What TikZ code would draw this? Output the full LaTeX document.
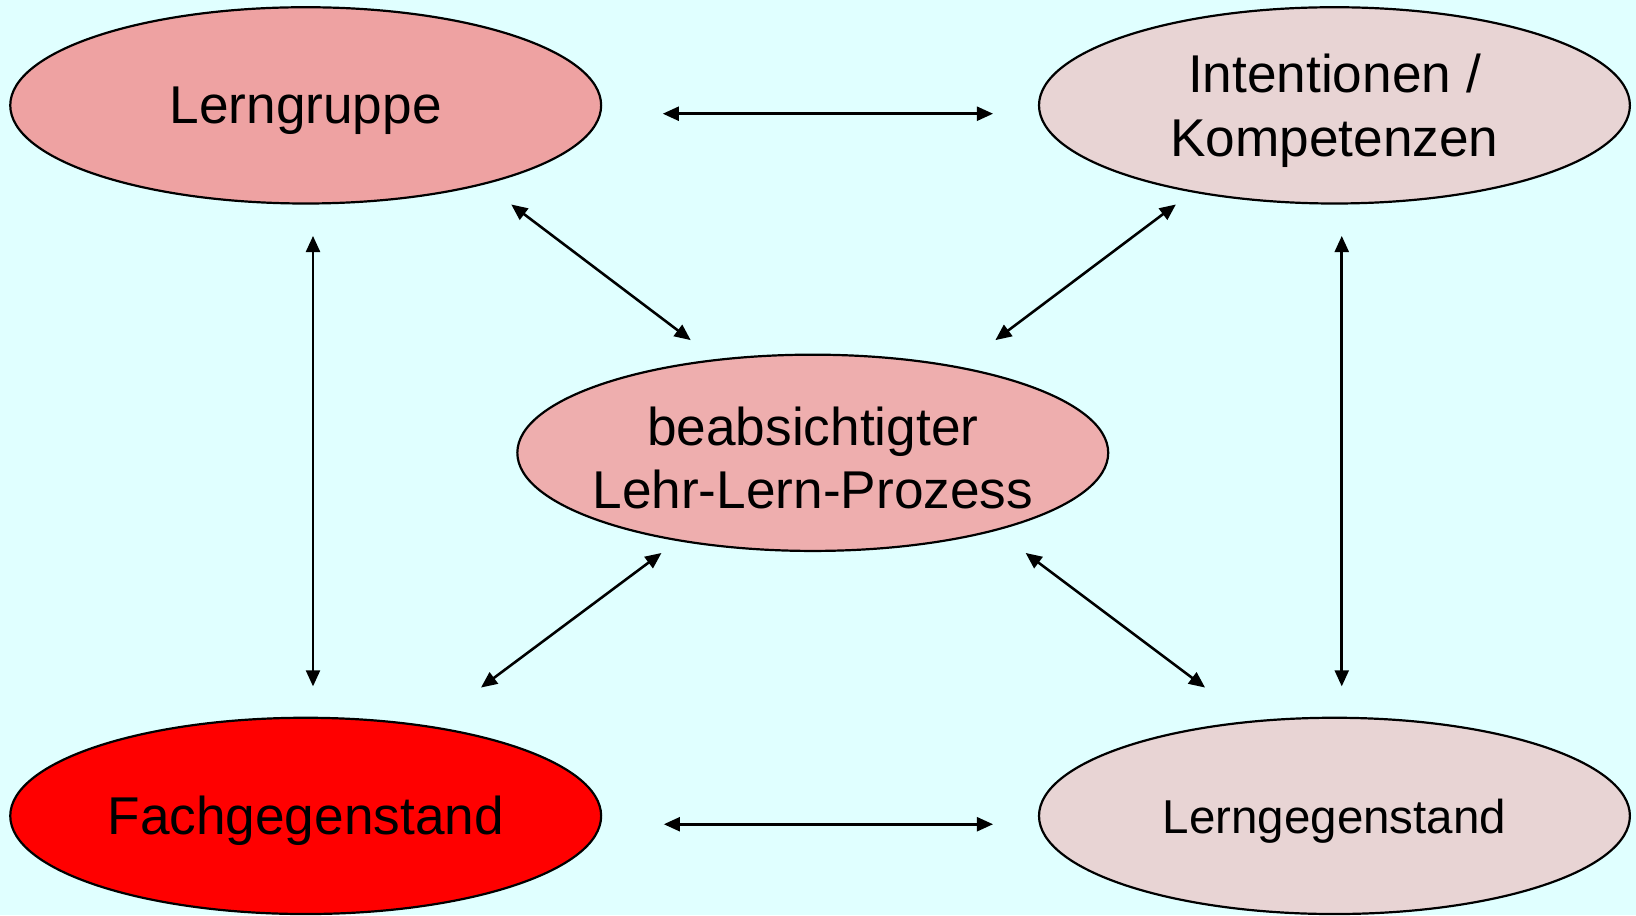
\documentclass[tikz,border=0pt]{standalone}
\usepackage{fontspec}
\setmainfont{Liberation Sans}
\usetikzlibrary{shapes.geometric,arrows.meta}
\definecolor{bgc}{RGB}{224,255,255}
\definecolor{lgc}{RGB}{238,162,162}
\definecolor{cpc}{RGB}{238,174,174}
\definecolor{icc}{RGB}{232,212,212}
\definecolor{fgc}{RGB}{255,0,0}
\begin{document}
\begin{tikzpicture}[x=0.01cm,y=-0.01cm,
  ell/.style={ellipse,draw=black,line width=0.6pt,inner sep=0pt,minimum width=5.66cm,minimum height=1.88cm},
  txt/.style={font=\fontsize{14.5}{17.4}\selectfont,align=center,text=black,yshift=-0.05cm},
  arr/.style={line width=0.7pt,{Triangle[length=4.4pt,width=3.8pt]}-{Triangle[length=4.4pt,width=3.8pt]}}]
\fill[bgc] (0,0) rectangle (1568,877);
\useasboundingbox (0,0) rectangle (1568,877);
\node[ell,fill=lgc,label={[txt]center:Lerngruppe}] (lg) at (293,101) {};
\node[ell,fill=icc,label={[txt]center:Intentionen /\\Kompetenzen}] (ic) at (1279,101) {};
\node[ell,fill=cpc,label={[txt]center:beabsichtigter\\Lehr-Lern-Prozess}] (cp) at (779,434) {};
\node[ell,fill=fgc,label={[txt]center:Fachgegenstand}] (fg) at (293,782) {};
\node[ell,fill=icc,label={[txt,font=\fontsize{12.95}{15.5}\selectfont]center:Lerngegenstand}] (lgs) at (1279,782) {};
\draw[arr] ([shift={(58,8)}]lg.east) -- ([shift={(-43,8)}]ic.west);
\draw[arr] ([shift={(59,8)}]fg.east) -- ([shift={(-43,8)}]lgs.west);
\draw[arr] ([shift={(7,30)}]lg.south) -- ([shift={(7,-29)}]fg.north);
\draw[arr] ([shift={(7,30)}]ic.south) -- ([shift={(7,-29)}]lgs.north);
\draw[arr] ([shift={(197,95)}]lg.center) -- ([shift={(-117,-108)}]cp.center);
\draw[arr] ([shift={(-152,95)}]ic.center) -- ([shift={(175,-108)}]cp.center);
\draw[arr] ([shift={(-145,96)}]cp.center) -- ([shift={(168,-123)}]fg.center);
\draw[arr] ([shift={(204,96)}]cp.center) -- ([shift={(-124,-123)}]lgs.center);
\end{tikzpicture}
\end{document}
